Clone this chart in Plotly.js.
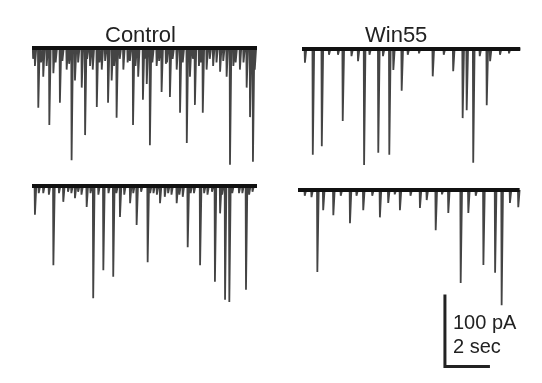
<!DOCTYPE html>
<html><head><meta charset="utf-8">
<script src="https://cdn.plot.ly/plotly-3.0.1.min.js"></script>
<style>html,body{margin:0;padding:0;background:#fff}#plot{width:542px;height:383px;filter:blur(0.45px)}</style>
</head><body><div id="plot"></div>
<script>
// Event times (s) and amplitudes (pA) for each recording
const ctrl1Times = [0.05,0.13,0.28,0.4,0.5,0.65,0.77,0.95,1.05,1.24,1.35,1.54,1.65,1.76,1.91,2.05,2.21,2.36,2.45,2.58,2.7,2.88,3.0,3.1,3.25,3.38,3.54,3.65,3.76,3.9,4.06,4.25,4.35,4.49,4.6,4.72,4.93,5.0,5.1,5.24,5.35,5.54,5.65,5.76,5.95,6.0,6.13,6.25,6.43,6.58,6.7,6.88,7.02,7.15,7.24,7.42,7.5,7.59,7.76,7.9,8.05,8.2,8.36,8.5,8.65,8.8,8.95,9.05,9.24,9.4,9.54,9.69,9.82,9.9];
const ctrl1Amps  = [15,25,83,20,40,25,107,35,20,76,18,30,22,156,45,20,55,121,15,25,30,82,20,30,18,76,45,25,97,15,30,20,18,107,25,40,72,15,50,135,20,25,18,61,22,20,68,15,30,90,20,132,40,15,79,25,20,90,30,15,25,20,33,18,40,162,25,20,30,20,55,96,158,30];
const win1Times  = [0.13,0.48,0.88,1.2,1.6,1.81,2.2,2.49,2.76,3.0,3.39,3.6,3.88,4.06,4.43,4.7,5.2,5.81,6.3,6.72,7.14,7.32,7.61,7.9,8.21,8.36,8.8,9.2];
const win1Amps   = [19,147,135,8,8,100,10,17,161,8,144,10,147,29,58,8,6,38,8,31,96,85,158,10,78,17,8,6];
const ctrl2Times = [0.13,0.3,0.5,0.75,0.95,1.2,1.39,1.6,1.75,1.91,2.05,2.2,2.43,2.6,2.72,2.95,3.17,3.4,3.61,3.75,3.91,4.1,4.36,4.5,4.65,4.85,5.14,5.25,5.4,5.55,5.69,5.9,6.05,6.2,6.43,6.55,6.7,6.92,7.05,7.2,7.47,7.65,7.8,8.0,8.13,8.36,8.45,8.58,8.77,8.9,9.2,9.35,9.51,9.65,9.8];
const ctrl2Amps  = [40,10,10,12,110,10,22,8,10,17,8,12,29,10,156,12,117,10,126,10,43,12,24,10,54,8,106,10,10,12,24,15,10,12,24,12,15,85,10,10,110,10,12,8,133,38,12,158,161,10,10,10,144,12,8];
const win2Times  = [0.3,0.6,0.86,1.12,1.57,1.9,2.31,2.6,2.9,3.3,3.64,4.01,4.3,4.53,5.0,5.42,5.72,6.12,6.4,6.68,7.23,7.57,7.9,8.24,8.76,9.05,9.42,9.79];
const win2Amps   = [8,10,114,28,35,8,46,8,28,8,38,18,6,28,8,25,14,56,6,32,129,32,8,104,115,160,18,24];
const durations  = [10, 9.7, 10, 9.85];
const panelTitles = ["Control", "Win55"];
const scaleBarTime = 2;      // s
const scaleBarCurrent = 100; // pA
const scaleLabels = ["100 pA", "2 sec"];

const W = 542, H = 383;
const pxPerSec = 22.5, pxPerPA = 0.72;

function buildTrace(times, amps, dur) {
  const ev = times.map((t, i) => [t, amps[i]]).sort((a, b) => a[0] - b[0]);
  const x = [0], y = [0];
  ev.forEach(([t, a]) => { x.push(t - 0.015, t, t + 0.06); y.push(0, -a, 0); });
  x.push(dur); y.push(0);
  return {x, y};
}

// panel geometry: [xStartPx, baselinePx, yTopPx, yBottomPx]
const geom = [
  [32, 48, 15, 175],
  [302, 49, 15, 175],
  [32, 186, 176, 322],
  [298, 190, 177, 381]
];
const data = [];
const layout = {
  width: W, height: H, margin: {l:0, r:0, t:0, b:0},
  paper_bgcolor: '#fff', plot_bgcolor: 'rgba(0,0,0,0)',
  showlegend: false, annotations: []
};
const sets = [[ctrl1Times, ctrl1Amps], [win1Times, win1Amps], [ctrl2Times, ctrl2Amps], [win2Times, win2Amps]];
sets.forEach((s, i) => {
  const n = i + 1, sfx = n === 1 ? '' : n;
  const [x0, base, top, bot] = geom[i];
  const xr = [0, 10], xd = [x0 / W, (x0 + 10 * pxPerSec) / W];
  const yr = [-(bot - base) / pxPerPA, (base - top) / pxPerPA];
  const yd = [1 - bot / H, 1 - top / H];
  const ax = {visible: false, fixedrange: true};
  layout['xaxis' + sfx] = Object.assign({range: xr, domain: xd, anchor: 'y' + sfx}, ax);
  layout['yaxis' + sfx] = Object.assign({range: yr, domain: yd, anchor: 'x' + sfx}, ax);
  const tr = buildTrace(s[0], s[1], durations[i]);
  data.push({x: tr.x, y: tr.y, mode: 'lines', xaxis: 'x' + sfx, yaxis: 'y' + sfx,
    line: {color: '#444', width: 1.8}, hoverinfo: 'skip'});
  data.push({x: [0, durations[i]], y: [0, 0], mode: 'lines', xaxis: 'x' + sfx, yaxis: 'y' + sfx,
    line: {color: '#111', width: 4}, hoverinfo: 'skip'});
});
// scale bar in bottom-right panel coordinates
const sbT0 = 6.53, sbY0 = -145;
data.push({x: [sbT0, sbT0, sbT0 + scaleBarTime], y: [sbY0, sbY0 - scaleBarCurrent, sbY0 - scaleBarCurrent],
  mode: 'lines', xaxis: 'x4', yaxis: 'y4', line: {color: '#222', width: 3}, hoverinfo: 'skip'});

const font = {family: 'Liberation Sans, Arial, sans-serif', color: '#222'};
layout.annotations.push(
  {text: panelTitles[0], x: 141 / W, y: 1 - 34 / H, xref: 'paper', yref: 'paper', showarrow: false,
   xanchor: 'center', yanchor: 'middle', font: Object.assign({size: 22}, font)},
  {text: panelTitles[1], x: 396 / W, y: 1 - 34 / H, xref: 'paper', yref: 'paper', showarrow: false,
   xanchor: 'center', yanchor: 'middle', font: Object.assign({size: 22}, font)},
  {text: scaleLabels[0], x: 451 / W, y: 1 - 322 / H, xref: 'paper', yref: 'paper', showarrow: false,
   xanchor: 'left', yanchor: 'middle', font: Object.assign({size: 20}, font)},
  {text: scaleLabels[1], x: 451 / W, y: 1 - 346 / H, xref: 'paper', yref: 'paper', showarrow: false,
   xanchor: 'left', yanchor: 'middle', font: Object.assign({size: 20}, font)}
);
Plotly.newPlot('plot', data, layout, {staticPlot: true, displayModeBar: false});
</script></body></html>
